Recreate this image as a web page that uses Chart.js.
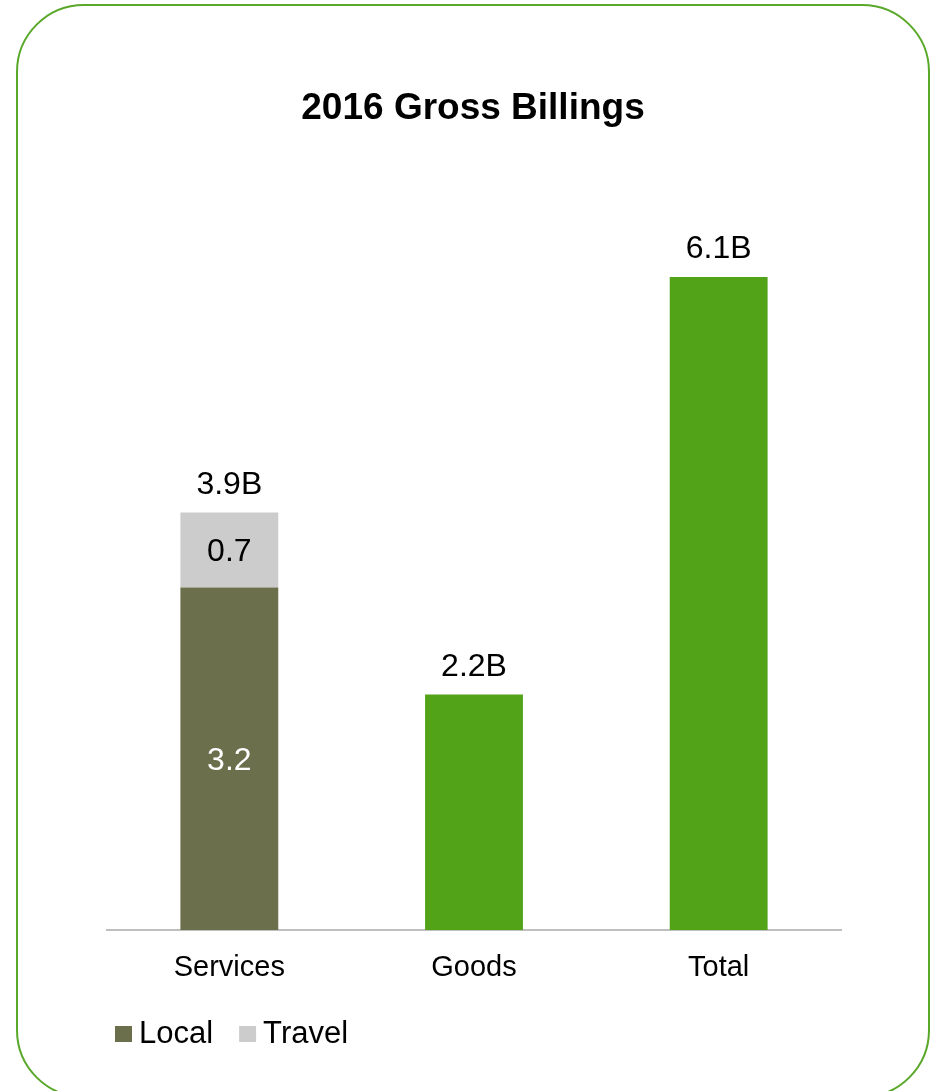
<!DOCTYPE html>
<html>
  <head>
    <meta charset="utf-8">
    <title>2016 Gross Billings</title>
    <script src="https://cdn.jsdelivr.net/npm/chart.js@4.4.1/dist/chart.umd.min.js"></script>
    <style>
      body {
        margin: 0;
        background: #ffffff;
        font-family: "Liberation Sans", Arial, sans-serif;
      }
      #wrap {
        position: relative;
        width: 936px;
        height: 1091px;
        overflow: hidden;
      }
      /* green rounded frame round the whole chart */
      #frame {
        position: absolute;
        left: 16px;
        top: 4px;
        width: 910px;
        height: 1090px;
        border: 2px solid #5aa82a;
        border-radius: 68px;
      }
      #chart {
        position: absolute;
        left: 0;
        top: 0;
      }
    </style>
  </head>
  <body>
    <div id="wrap">
      <div id="frame"></div>
      <canvas id="chart" width="936" height="1091"></canvas>
    </div>

    <script>
      // billings in $B
      var categories = ["Services", "Goods", "Total"];
      var localValues = [3.2, null, null];
      var travelValues = [0.7, null, null];
      var billingValues = [null, 2.2, 6.1];
      var totalLabels = ["3.9B", "2.2B", "6.1B"];

      var FONT = '"Liberation Sans", Arial, sans-serif';

      // title, legend and value labels drawn on top of the bars
      var extras = {
        id: "extras",
        afterDraw: function(chart) {
          var ctx = chart.ctx;
          ctx.save();

          ctx.fillStyle = "#000";
          ctx.textAlign = "center";
          ctx.textBaseline = "alphabetic";
          ctx.font = "bold 37px " + FONT;
          ctx.fillText("2016 Gross Billings", 473, 119);

          // segment values inside the stacked bar
          ctx.font = "32px " + FONT;
          ctx.textBaseline = "middle";
          var segs = [
            {ds: 0, color: "#ffffff", vals: localValues},
            {ds: 1, color: "#000000", vals: travelValues}
          ];
          segs.forEach(function(s) {
            var meta = chart.getDatasetMeta(s.ds);
            s.vals.forEach(function(v, i) {
              if (v === null) return;
              var bar = meta.data[i];
              ctx.fillStyle = s.color;
              ctx.fillText(v.toFixed(1), bar.x, (bar.y + bar.base) / 2 + 2);
            });
          });

          // totals above each column
          ctx.fillStyle = "#000";
          ctx.textBaseline = "alphabetic";
          categories.forEach(function(c, i) {
            var top = Infinity, x = 0;
            chart.data.datasets.forEach(function(d, k) {
              if (d.data[i] === null) return;
              var bar = chart.getDatasetMeta(k).data[i];
              if (bar.y < top) { top = bar.y; x = bar.x; }
            });
            ctx.fillText(totalLabels[i], x, top - 19);
          });

          // legend: only the services split
          ctx.font = "31px " + FONT;
          ctx.textAlign = "left";
          var lx = 115;
          [0, 1].forEach(function(k) {
            var d = chart.data.datasets[k];
            ctx.fillStyle = d.backgroundColor;
            ctx.fillRect(lx, 1026, 17, 16);
            ctx.fillStyle = "#000";
            ctx.fillText(d.label, lx + 24, 1043);
            lx += 24 + ctx.measureText(d.label).width + 26;
          });

          ctx.restore();
        }
      };

      var ctx = document.getElementById("chart").getContext("2d");
      var myChart = new Chart(ctx, {
        type: "bar",
        data: {
          labels: categories,
          datasets: [
            {label: "Local", data: localValues, backgroundColor: "#6b6f4b"},
            {label: "Travel", data: travelValues, backgroundColor: "#cccccc"},
            {label: "Billings", data: billingValues, backgroundColor: "#52a318"}
          ]
        },
        options: {
          responsive: false,
          animation: false,
          layout: {
            padding: {left: 107, right: 95, top: 170, bottom: 0}
          },
          datasets: {
            bar: {
              barPercentage: 0.4,
              categoryPercentage: 1.0,
              skipNull: true
            }
          },
          scales: {
            x: {
              stacked: true,
              grid: {display: false, drawTicks: false},
              border: {display: true, color: "#bfbfbf", width: 2},
              ticks: {
                color: "#000",
                padding: 21,
                font: {family: FONT, size: 29}
              },
              afterFit: function(scale) {
                scale.height = 161;
              }
            },
            y: {
              stacked: true,
              display: false,
              min: 0,
              max: 7.1
            }
          },
          plugins: {
            legend: {display: false},
            title: {display: false},
            tooltip: {enabled: false}
          }
        },
        plugins: [extras]
      });
    </script>
  </body>
</html>
